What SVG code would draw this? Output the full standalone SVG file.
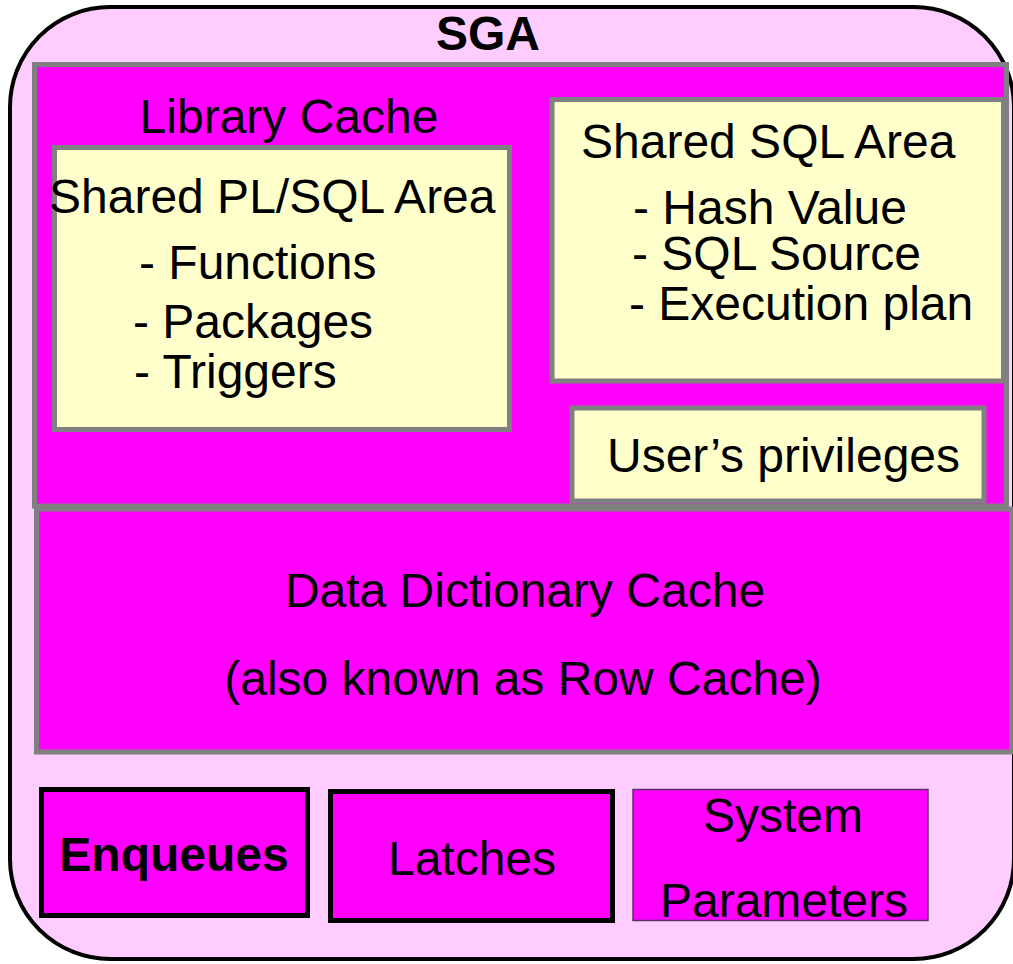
<svg xmlns="http://www.w3.org/2000/svg" width="1013" height="964" viewBox="0 0 1013 964">
  <style>
    text { font-family: "Liberation Sans", Arial, sans-serif; font-size: 48px; fill: #000; }
    .b { font-weight: bold; }
    .mid { text-anchor: middle; }
    .pool { fill: #FF00FF; stroke: #808080; stroke-width: 5; }
    .area { fill: #FFFFCC; stroke: #808080; stroke-width: 5; }
    .blk { fill: #FF00FF; stroke: #000; stroke-width: 5; }
  </style>

  <!-- System Global Area -->
  <g id="sga">
    <rect x="10" y="7" width="1004" height="952" rx="100" ry="100" fill="#FFCCFF" stroke="#000" stroke-width="4"/>
    <text class="b mid" x="488" y="50">SGA</text>
  </g>

  <!-- Library cache and its areas -->
  <g id="library-cache">
    <rect class="pool" x="34.5" y="64.5" width="972" height="441.5"/>
    <text class="mid" x="289" y="133">Library Cache</text>
  </g>

  <g id="shared-plsql-area">
    <rect class="area" x="54.5" y="147.5" width="455" height="282"/>
    <text x="49" y="213">Shared PL/SQL Area</text>
    <text x="139" y="279">- Functions</text>
    <text x="133" y="338">- Packages</text>
    <text x="134" y="388">- Triggers</text>
  </g>

  <g id="shared-sql-area">
    <rect class="area" x="552" y="99.5" width="451.5" height="281.5"/>
    <text x="581" y="158">Shared SQL Area</text>
    <text x="633" y="224">- Hash Value</text>
    <text x="632" y="270">- SQL Source</text>
    <text x="629" y="320">- Execution plan</text>
  </g>

  <g id="user-privileges">
    <rect class="area" x="572" y="408" width="412" height="93"/>
    <text x="607" y="472">User’s privileges</text>
  </g>

  <!-- Data dictionary cache -->
  <g id="data-dictionary-cache">
    <rect class="pool" x="36.5" y="509" width="975" height="243"/>
    <text class="mid" x="525" y="607">Data Dictionary Cache</text>
    <text class="mid" x="523" y="695">(also known as Row Cache)</text>
  </g>

  <!-- Bottom row -->
  <g id="enqueues">
    <rect class="blk" x="41.5" y="789.5" width="266" height="126"/>
    <text class="b mid" x="174" y="871">Enqueues</text>
  </g>

  <g id="latches">
    <rect class="blk" x="330.5" y="791.5" width="282" height="129"/>
    <text class="mid" x="472" y="875">Latches</text>
  </g>

  <g id="system-parameters">
    <rect x="633" y="789.5" width="295" height="131" fill="#FF00FF" stroke="#603060" stroke-width="1.5"/>
    <text class="mid" x="783" y="832">System</text>
    <text class="mid" x="784" y="917">Parameters</text>
  </g>

  <g id="connectors"/>
</svg>
